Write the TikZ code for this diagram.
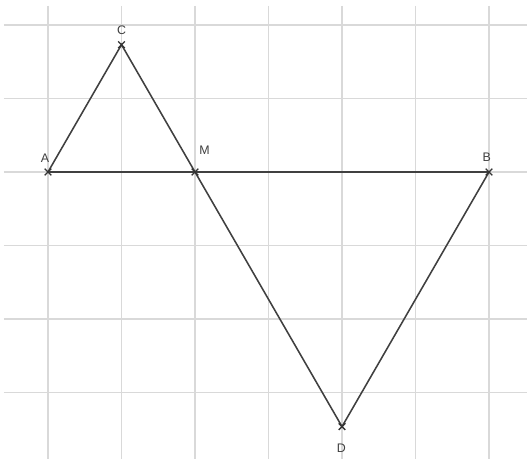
\documentclass[tikz,border=0pt]{standalone}
\usepackage{fontspec}
\setmainfont{Liberation Sans}
\usetikzlibrary{calc}
\begin{document}
\begin{tikzpicture}[x=1cm,y=1cm,
  gridline/.style={draw=black!15,line width=0.5pt},
  seg/.style={draw=black!75,line width=0.6pt},
  lbl/.style={font=\fontsize{4.8}{5.5}\selectfont,text=black!75,inner sep=0pt},
  pt/.style={inner sep=0pt,minimum size=0pt}]
\useasboundingbox (-0.653,-3.905) rectangle (6.544,2.340);
\fill[white] (-0.653,-3.905) rectangle (6.544,2.340);
% grid
\foreach \x in {0,...,6} \draw[gridline] (\x,2.26) -- (\x,-3.905);
\foreach \y in {2,1,0,-1,-2,-3} \draw[gridline] (-0.6,\y) -- (6.52,\y);
% points
\coordinate (A) at (0,0);
\coordinate (M) at (2,0);
\coordinate (B) at (6,0);
\coordinate (C) at (1,1.732);
\coordinate (D) at (4,-3.464);
% segments
\draw[seg] (A) -- (C) -- (M) -- (D) -- (B) -- (A);
% crosses
\foreach \p in {A,M,B,C,D}
  \draw[black!80,line width=0.5pt] ($(\p)+(-0.045,-0.045)$) -- ($(\p)+(0.045,0.045)$)
        ($(\p)+(-0.045,0.045)$) -- ($(\p)+(0.045,-0.045)$);
% labels
\node[lbl] (lA) at (-0.04,0.19) {A};
\node[lbl] (lC) at (1.0,1.93) {C};
\node[lbl] (lM) at (2.13,0.30) {M};
\node[lbl] (lB) at (5.97,0.20) {B};
\node[lbl] (lD) at (3.99,-3.755) {D};
\end{tikzpicture}
\end{document}
